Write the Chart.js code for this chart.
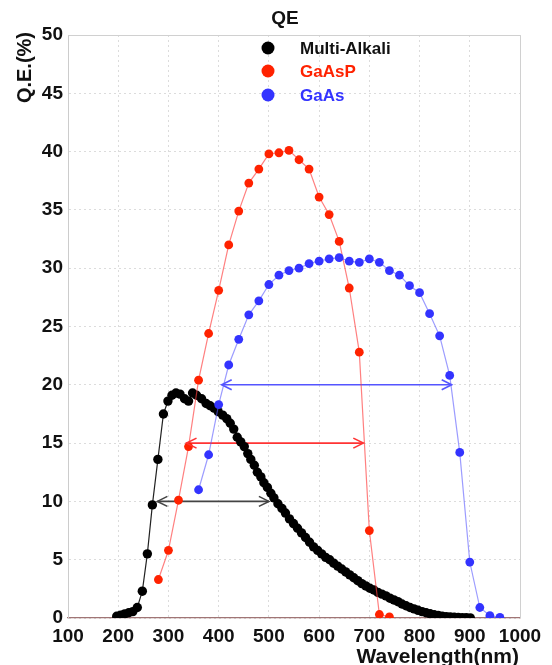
<!DOCTYPE html>
<html>
<head>
<meta charset="utf-8">
<title>QE</title>
<script src="https://cdn.jsdelivr.net/npm/chart.js@4.4.0/dist/chart.umd.min.js"></script>
<style>
  html, body { margin: 0; padding: 0; background: #fff; }
  canvas { display: block; }
</style>
</head>
<body>
<canvas id="myChart" width="552" height="665"></canvas>
<script>
// données
const seriesNames = ['Multi-Alkali', 'GaAsP', 'GaAs'];

const alkaliX = [197, 205, 213, 221, 229, 238, 248, 258, 268, 279, 290, 299, 307, 315, 323, 332, 340, 348, 356, 366,
    375, 383, 391, 399, 408, 416, 423, 430, 437, 444, 451, 458, 464, 471, 477, 484, 490, 497, 504, 510,
    518, 526, 533, 541, 549, 557, 565, 573, 581, 589, 597, 605, 613, 621, 629, 637, 645, 653, 661, 669,
    677, 685, 693, 701, 709, 717, 725, 733, 741, 749, 757, 765, 773, 781, 789, 797, 805, 813, 821, 829,
    837, 845, 853, 861, 869, 877, 885, 893, 901];
const alkaliQE = [0.15, 0.25, 0.35, 0.45, 0.55, 0.9, 2.3, 5.5, 9.7, 13.6, 17.5, 18.6, 19.1, 19.3, 19.2, 18.8, 18.6, 19.3, 19.1, 18.8,
    18.4, 18.2, 18.0, 17.7, 17.4, 17.1, 16.7, 16.2, 15.5, 15.1, 14.7, 14.1, 13.6, 13.1, 12.5, 12.1, 11.6, 11.2, 10.7, 10.3,
    9.8, 9.4, 9.0, 8.5, 8.1, 7.7, 7.3, 6.9, 6.5, 6.1, 5.8, 5.5, 5.2, 5.0, 4.7, 4.45, 4.2, 3.95, 3.7, 3.45,
    3.2, 2.95, 2.75, 2.55, 2.4, 2.2, 2.05, 1.9, 1.7, 1.55, 1.4, 1.2, 1.05, 0.9, 0.78, 0.66, 0.55, 0.45, 0.36, 0.28,
    0.22, 0.16, 0.12, 0.09, 0.06, 0.04, 0.03, 0.02, 0.01];

const gaasPX = [280, 300, 320, 340, 360, 380, 400, 420, 440, 460, 480, 500, 520, 540, 560, 580, 600, 620, 640, 660, 680, 700, 720, 740];
const gaasPQE = [3.3, 5.8, 10.1, 14.7, 20.4, 24.4, 28.1, 32.0, 34.9, 37.3, 38.5, 39.8, 39.9, 40.1, 39.3, 38.5, 36.1, 34.6, 32.3, 28.3, 22.8, 7.5, 0.3, 0.1];

const gaasX = [360, 380, 400, 420, 440, 460, 480, 500, 520, 540, 560, 580, 600, 620, 640, 660, 680, 700, 720, 740,
    760, 780, 800, 820, 840, 860, 880, 900, 920, 940, 960];
const gaasQE = [11.0, 14.0, 18.3, 21.7, 23.9, 26.0, 27.2, 28.6, 29.4, 29.8, 30.0, 30.4, 30.6, 30.8, 30.9, 30.6, 30.5, 30.8, 30.5, 29.8,
    29.4, 28.5, 27.9, 26.1, 24.2, 20.8, 14.2, 4.8, 0.9, 0.2, 0.05];

// flèches (largeur de la réponse)
const arrowQE = [10, 15, 20];
const arrowFrom = [278, 336, 406];
const arrowTo = [500, 688, 864];

const xTicks = [100, 200, 300, 400, 500, 600, 700, 800, 900, 1000];
const yTicks = [0, 5, 10, 15, 20, 25, 30, 35, 40, 45, 50];

const pointColors = ['#000000', '#ff2200', '#3333ff'];
const lineColors = ['#222222', 'rgba(255, 60, 60, 0.65)', 'rgba(90, 90, 255, 0.6)'];
const arrowColors = ['#444444', '#ff3333', '#5555ff'];

function toPoints(xs, ys) {
    return xs.map((x, i) => ({ x: x, y: ys[i] }));
}

let datasets = [];
const allX = [alkaliX, gaasPX, gaasX];
const allY = [alkaliQE, gaasPQE, gaasQE];
for (let i = 0; i < seriesNames.length; i++) {
    datasets.push({
        label: seriesNames[i],
        data: toPoints(allX[i], allY[i]),
        showLine: true,
        borderColor: lineColors[i],
        borderWidth: 1.2,
        backgroundColor: pointColors[i],
        pointBackgroundColor: pointColors[i],
        pointBorderWidth: 0,
        pointRadius: i === 0 ? 4.7 : 4.4,
        order: 3 - i
    });
}
for (let i = 0; i < arrowQE.length; i++) {
    datasets.push({
        label: 'arrow' + i,
        isArrow: true,
        data: [{ x: arrowFrom[i], y: arrowQE[i] }, { x: arrowTo[i], y: arrowQE[i] }],
        showLine: true,
        borderColor: arrowColors[i],
        borderWidth: 1.6,
        pointRadius: 0,
        order: 10
    });
}

const fontFam = '"Liberation Sans", Arial, sans-serif';

// titre, légende, titres d'axes, pointes des flèches
const decor = {
    id: 'decor',
    afterDatasetsDraw(chart) {
        const ctx = chart.ctx;
        ctx.save();
        // pointes
        chart.data.datasets.forEach((ds, di) => {
            if (!ds.isArrow) return;
            const pts = chart.getDatasetMeta(di).data;
            ctx.strokeStyle = ds.borderColor;
            ctx.lineWidth = 1.6;
            [[pts[0], 1], [pts[1], -1]].forEach(([p, dir]) => {
                ctx.beginPath();
                ctx.moveTo(p.x + dir * 10, p.y - 5);
                ctx.lineTo(p.x, p.y);
                ctx.lineTo(p.x + dir * 10, p.y + 5);
                ctx.stroke();
            });
        });
        ctx.restore();
    },
    afterDraw(chart) {
        const ctx = chart.ctx;
        const a = chart.chartArea;
        ctx.save();
        ctx.strokeStyle = '#d0d0d0';
        ctx.lineWidth = 1;
        ctx.beginPath();
        ctx.moveTo(a.left, a.top + 0.5);
        ctx.lineTo(a.right + 0.5, a.top + 0.5);
        ctx.lineTo(a.right + 0.5, a.bottom);
        ctx.stroke();

        ctx.fillStyle = '#111';
        ctx.font = 'bold 19px ' + fontFam;
        ctx.textAlign = 'center';
        ctx.textBaseline = 'middle';
        ctx.fillText('QE', 285, 19);

        const rows = [48, 71, 95];
        ctx.font = 'bold 17px ' + fontFam;
        ctx.textAlign = 'left';
        for (let i = 0; i < seriesNames.length; i++) {
            ctx.fillStyle = pointColors[i];
            ctx.beginPath();
            ctx.arc(268, rows[i], 6.5, 0, Math.PI * 2);
            ctx.fill();
            ctx.fillStyle = i === 0 ? '#111' : pointColors[i];
            ctx.fillText(seriesNames[i], 300, rows[i] + 1);
        }

        ctx.fillStyle = '#111';
        ctx.font = 'bold 21px ' + fontFam;
        ctx.textAlign = 'right';
        ctx.fillText('Wavelength(nm)', 519, 657);

        ctx.translate(25, 32);
        ctx.rotate(-Math.PI / 2);
        ctx.textAlign = 'right';
        ctx.font = 'bold 20px ' + fontFam;
        ctx.fillText('Q.E.(%)', 0, 0);
        ctx.restore();
    }
};

const tickFont = { family: fontFam, size: 19, weight: 'bold' };

const ctx = document.getElementById('myChart').getContext('2d');
const myChart = new Chart(ctx, {
    type: 'scatter',
    data: { datasets: datasets },
    options: {
        responsive: false,
        animation: false,
        layout: { autoPadding: false, padding: { top: 35, right: 32, left: 0, bottom: 0 } },
        plugins: {
            legend: { display: false },
            title: { display: false },
            tooltip: { enabled: false }
        },
        scales: {
            x: {
                type: 'linear',
                min: 100,
                max: 1000,
                afterFit: function (scale) { scale.height = 47; },
                afterBuildTicks: function (scale) { scale.ticks = xTicks.map(v => ({ value: v })); },
                ticks: { font: tickFont, color: '#111', padding: 7, maxRotation: 0, callback: v => String(v) },
                grid: { color: '#dcdcdc', drawTicks: false },
                border: { color: '#a07575', width: 1.2, dash: [2, 3] }
            },
            y: {
                min: 0,
                max: 50,
                afterFit: function (scale) { scale.width = 68; },
                afterBuildTicks: function (scale) { scale.ticks = yTicks.map(v => ({ value: v })); },
                ticks: { font: tickFont, color: '#111', padding: 5, callback: v => String(v) },
                grid: { color: '#dcdcdc', drawTicks: false },
                border: { color: '#cccccc', width: 1, dash: [2, 3] }
            }
        }
    },
    plugins: [decor]
});
</script>
</body>
</html>
